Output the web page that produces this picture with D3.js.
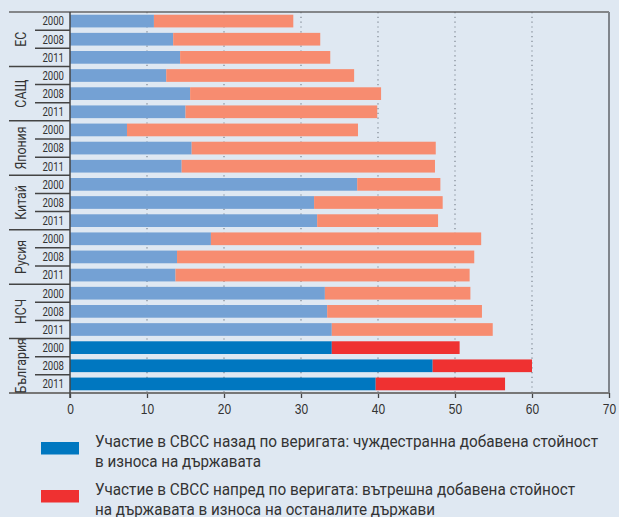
<!DOCTYPE html>
<html>
<head>
<meta charset="utf-8">
<script src="https://cdn.jsdelivr.net/npm/d3@7"></script>
<style>
  html, body { margin: 0; padding: 0; background: #dfe8f2; }
  svg { display: block; font-family: Roboto, "Liberation Sans", sans-serif; }
</style>
</head>
<body>
<div id="chart"></div>
<script>
// ===== DATA =====
const groups = ['ЕС', 'САЩ', 'Япония', 'Китай', 'Русия', 'НСЧ', 'България'];
const years = ['2000', '2008', '2011'];

// backward participation (foreign value added in exports), by group then year
const backward = [
  10.9, 13.4, 14.3,
  12.5, 15.6, 15.0,
  7.4, 15.8, 14.5,
  37.3, 31.7, 32.1,
  18.3, 13.9, 13.7,
  33.1, 33.4, 34.0,
  34.0, 47.1, 39.7
];
// forward participation (domestic value added in other countries' exports)
const forward = [
  18.1, 19.1, 19.5,
  24.4, 24.8, 24.9,
  30.0, 31.7, 32.9,
  10.8, 16.7, 15.7,
  35.1, 38.6, 38.2,
  18.9, 20.1, 20.9,
  16.6, 12.9, 16.8
];
const xTicks = [0, 10, 20, 30, 40, 50, 60, 70];
const legendLabels = [
  ['Участие в СВСС назад по веригата: чуждестранна добавена стойност', 'в износа на държавата'],
  ['Участие в СВСС напред по веригата: вътрешна добавена стойност', 'на държавата в износа на останалите държави']
];

// ===== LAYOUT =====
const W = 619, H = 517;
const m = { left: 70, right: 609, top: 12, bottom: 393, frameLeft: 9 };
const colors = {
  back: '#74a1d4', fwd: '#f78c70',
  backBg: '#0077c0', fwdBg: '#ef3131',
  text: '#333'
};
// legend line widths as measured on the reference (the original uses a condensed face)
const legendWidths = [[503, 166], [480, 340]];

// squeeze text horizontally to mimic the condensed typeface
function condense(sel, k) {
  sel.each(function () {
    const w = this.getComputedTextLength();
    d3.select(this).attr('textLength', w * k).attr('lengthAdjust', 'spacingAndGlyphs');
  });
}

const rows = [];
groups.forEach((g, gi) => {
  years.forEach((y, yi) => {
    const i = gi * years.length + yi;
    rows.push({ key: g + '-' + y, group: g, year: y, gi, yi, back: backward[i], fwd: forward[i] });
  });
});

const x = d3.scaleLinear().domain([0, 70]).range([m.left, m.right]);
const y = d3.scaleBand().domain(rows.map(d => d.key)).range([m.top, m.bottom]).paddingInner(0.3).paddingOuter(0.15);
const step = y.step();

const svg = d3.select('#chart').append('svg')
  .attr('width', W)
  .attr('height', H);

// dotted gridlines
svg.append('g')
  .selectAll('line')
  .data(xTicks.slice(1, -1))
  .join('line')
  .attr('x1', d => x(d)).attr('x2', d => x(d))
  .attr('y1', m.top).attr('y2', m.bottom)
  .attr('stroke', '#7d8590')
  .attr('stroke-width', 1.2)
  .attr('stroke-dasharray', '1.2,3.6');

// bars
const isBg = d => d.group === 'България';
const bars = svg.append('g');
bars.selectAll('rect.back')
  .data(rows)
  .join('rect')
  .attr('class', 'back')
  .attr('x', x(0))
  .attr('y', d => y(d.key))
  .attr('width', d => x(d.back) - x(0))
  .attr('height', y.bandwidth())
  .attr('fill', d => isBg(d) ? colors.backBg : colors.back);

bars.selectAll('rect.fwd')
  .data(rows)
  .join('rect')
  .attr('class', 'fwd')
  .attr('x', d => x(d.back))
  .attr('y', d => y(d.key))
  .attr('width', d => x(d.back + d.fwd) - x(d.back))
  .attr('height', y.bandwidth())
  .attr('fill', d => isBg(d) ? colors.fwdBg : colors.fwd);

// frame: top and right edges
svg.append('line')
  .attr('x1', m.frameLeft).attr('x2', m.right)
  .attr('y1', m.top).attr('y2', m.top)
  .attr('stroke', '#666').attr('stroke-width', 1.6);
svg.append('line')
  .attr('x1', m.right).attr('x2', m.right)
  .attr('y1', m.top).attr('y2', m.bottom)
  .attr('stroke', '#80858c').attr('stroke-width', 2);

// bottom axis
const xAxis = svg.append('g')
  .attr('transform', `translate(0,${m.bottom})`)
  .call(d3.axisBottom(x).tickValues(xTicks).tickSize(5).tickPadding(5).tickSizeOuter(0));
xAxis.select('.domain').remove();
xAxis.selectAll('.tick line').attr('stroke', '#444').attr('stroke-width', 1.3);
xAxis.selectAll('.tick text')
  .attr('fill', colors.text)
  .style('font-size', '15px')
  .style('font-family', null)
  .call(condense, 0.8);
svg.append('line')
  .attr('x1', m.frameLeft).attr('x2', m.right)
  .attr('y1', m.bottom).attr('y2', m.bottom)
  .attr('stroke', '#777').attr('stroke-width', 2);

// left axis line
svg.append('line')
  .attr('x1', m.left).attr('x2', m.left)
  .attr('y1', m.top).attr('y2', m.bottom + 5)
  .attr('stroke', '#444').attr('stroke-width', 1.5);

// row separators: long between groups, short between years
const seps = svg.append('g');
rows.forEach((d, i) => {
  if (i === 0) return;
  const yy = m.top + i * step;
  seps.append('line')
    .attr('x1', d.yi === 0 ? m.frameLeft : 35)
    .attr('x2', m.left)
    .attr('y1', yy).attr('y2', yy)
    .attr('stroke', '#444').attr('stroke-width', 1.5);
});

// year labels
svg.append('g')
  .selectAll('text')
  .data(rows)
  .join('text')
  .attr('x', 64)
  .attr('y', (d, i) => m.top + (i + 0.5) * step)
  .attr('dy', '0.36em')
  .attr('text-anchor', 'end')
  .attr('fill', colors.text)
  .style('font-size', '12px')
  .text(d => d.year)
  .call(condense, 0.8);

// group labels, rotated
svg.append('g')
  .selectAll('text')
  .data(groups)
  .join('text')
  .attr('transform', (d, gi) => {
    const cy = m.top + (gi + 0.5) * years.length * step;
    return `translate(21,${cy}) rotate(-90)`;
  })
  .attr('dy', '0.36em')
  .attr('text-anchor', 'middle')
  .attr('fill', colors.text)
  .style('font-size', '14.5px')
  .text(d => d)
  .call(condense, 0.85);

// legend
const legend = svg.append('g');
const legendColors = [colors.backBg, colors.fwdBg];
legendLabels.forEach((lines, i) => {
  const top = 442 + i * 48;
  legend.append('rect')
    .attr('x', 41).attr('y', top)
    .attr('width', 38).attr('height', 12.5)
    .attr('fill', legendColors[i]);
  lines.forEach((t, li) => {
    legend.append('text')
      .attr('x', 95)
      .attr('y', top + 5 + li * 20)
      .attr('fill', colors.text)
      .style('font-size', '16px')
      .attr('textLength', legendWidths[i][li])
      .attr('lengthAdjust', 'spacingAndGlyphs')
      .text(t);
  });
});
</script>
</body>
</html>
